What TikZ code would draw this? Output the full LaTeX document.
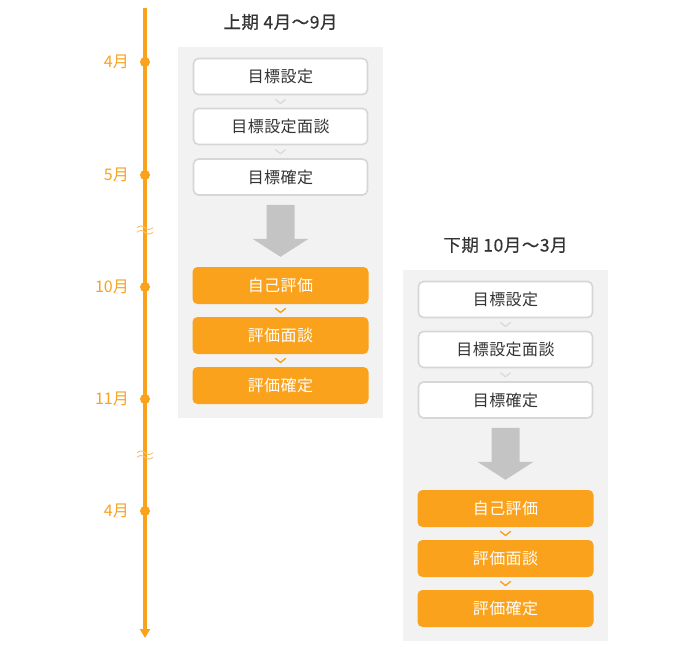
\documentclass[tikz,border=0pt]{standalone}
\usepackage{fontspec}
\setmainfont{Noto Sans CJK JP}
\newfontfamily\titlefont[FakeBold=0.4,LetterSpace=3]{Noto Sans CJK JP}
\newfontfamily\boxfont[LetterSpace=3]{Noto Sans CJK JP}
\usetikzlibrary{calc,arrows.meta}
\definecolor{org}{HTML}{FAA21B}
\definecolor{orglight}{HTML}{FBC067}
\definecolor{bggray}{HTML}{F2F2F2}
\definecolor{bordergray}{HTML}{D6D6D6}
\definecolor{arrgray}{HTML}{C4C4C4}
\definecolor{chevgray}{HTML}{D8D8D8}
\definecolor{txt}{HTML}{333333}
\tikzset{
  panelbg/.style={fill=bggray, draw=none, minimum width=205pt, minimum height=371pt, inner sep=0pt, anchor=north west},
  boxbase/.style={rounded corners=5pt, inner sep=0pt, font=\boxfont\fontsize{16}{16}\selectfont},
  whitebox/.style={boxbase, draw=bordergray, line width=1.6pt, fill=white, minimum width=174pt, minimum height=36pt, text=txt},
  orangebox/.style={boxbase, fill=org, draw=none, minimum width=176pt, minimum height=37pt, text=white},
  paneltitle/.style={font=\titlefont\fontsize{17.5}{17.5}\selectfont, text=txt, inner sep=0pt},
  chevg/.style={draw=chevgray, line width=1.2pt, line cap=round, line join=round},
  chevo/.style={draw=org, line width=1.4pt, line cap=round, line join=round},
  bigarrow/.style={fill=arrgray, draw=none},
  timeline/.style={draw=org, line width=3.6pt, -{Triangle[length=9pt,width=10pt]}},
  tldot/.style={circle, fill=org, minimum size=10pt, inner sep=0pt},
  monthlbl/.style={anchor=east, text=org, font=\fontsize{16}{16}\selectfont, inner sep=0pt},
  brk/.style={draw=orglight, line width=0.9pt},
}
\newcommand\chevron[3]{% style, upper node, lower node
  \draw[#1] ($(#2.south)!0.5!(#3.north)+(-5,-2)$) -- ++(5,4) -- ++(5,-4);}
\newcommand\flowpanel[4]{% prefix, dx, dy, title
  \begin{scope}[shift={(#2,#3)}]
    \node[panelbg] (#1bg) at (178,47) {};
    \node[paneltitle] (#1title) at (280.5,22) {#4};
    \node[whitebox] (#1a) at (280.5,76.5) {目標設定};
    \node[whitebox] (#1b) at (280.5,126.5) {目標設定面談};
    \node[whitebox] (#1c) at (280.5,177) {目標確定};
    \node[orangebox] (#1d) at (280.5,285.5) {自己評価};
    \node[orangebox] (#1e) at (280.5,335.5) {評価面談};
    \node[orangebox] (#1f) at (280.5,385.5) {評価確定};
    \chevron{chevg}{#1a}{#1b}
    \chevron{chevg}{#1b}{#1c}
    \chevron{chevo}{#1d}{#1e}
    \chevron{chevo}{#1e}{#1f}
    \fill[bigarrow] ($(#1c.south)+(-14,9)$) -- ++(28,0) -- ++(0,34) -- ++(14,0)
      -- ($(#1d.north)+(0,-10)$) -- ++(-28,-18) -- ++(14,0) -- cycle;
  \end{scope}}
\begin{document}
\begin{tikzpicture}[x=1pt,y=-1pt]
\useasboundingbox (0,0) rectangle (700,650);
\fill[white] (0,0) rectangle (700,650);
% timeline
\coordinate (tltop) at (145,8);
\coordinate (tlend) at (145,638);
\draw[timeline] (tltop) -- (tlend);
\foreach \y/\n/\t in {62/m1/4月, 175/m2/5月, 287/m3/10月, 399/m4/11月, 511/m5/4月}{
  \node[tldot] (\n) at (145,\y) {};
  \node[monthlbl] (\n lbl) at (129,\y) {\t};
}
\foreach \y in {230,455}{
  \foreach \d in {-2.3,2.3}{
    \draw[brk] (137,\y+\d) sin (141,\y+\d-1.8) cos (145,\y+\d) sin (149,\y+\d+1.8) cos (153,\y+\d);
  }
}
\flowpanel{L}{0}{0}{上期 4月～9月}
\flowpanel{R}{225}{223}{下期 10月～3月}
\end{tikzpicture}
\end{document}
